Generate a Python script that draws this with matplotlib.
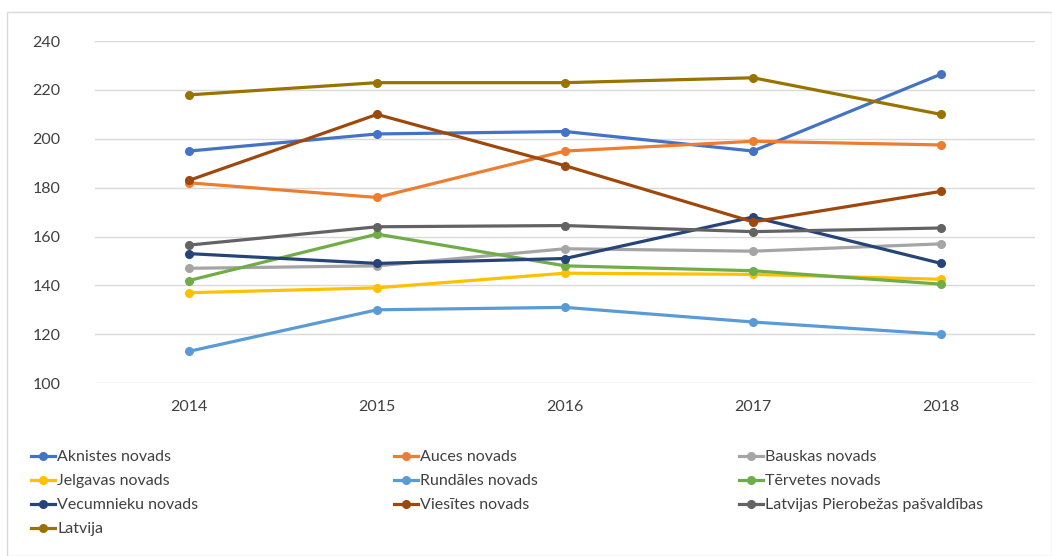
import matplotlib.pyplot as plt
from matplotlib.patches import Rectangle

plt.rcParams['font.family'] = ['Lato', 'DejaVu Sans']

years = ['2014', '2015', '2016', '2017', '2018']

aknistes = [195, 202, 203, 195, 226.5]
auces = [182, 176, 195, 199, 197.5]
bauskas = [147, 148, 155, 154, 157]
jelgavas = [137, 139, 145, 144.5, 142.5]
rundales = [113, 130, 131, 125, 120]
tervetes = [142, 161, 148, 146, 140.5]
vecumnieku = [153, 149, 151, 168, 149]
viesites = [183, 210, 189, 166, 178.5]
pierobezas = [156.5, 164, 164.5, 162, 163.5]
latvija = [218, 223, 223, 225, 210]

names = ['Aknistes novads', 'Auces novads', 'Bauskas novads',
         'Jelgavas novads', 'Rundāles novads', 'Tērvetes novads',
         'Vecumnieku novads', 'Viesītes novads', 'Latvijas Pierobežas pašvaldības',
         'Latvija']
series = [aknistes, auces, bauskas, jelgavas, rundales, tervetes,
          vecumnieku, viesites, pierobezas, latvija]
colors = ['#4472C4', '#ED7D31', '#A5A5A5', '#FFC000', '#5B9BD5', '#70AD47',
          '#264478', '#9E480E', '#636363', '#997300']

fig = plt.figure(figsize=(10.52, 5.56), dpi=100)
fig.patches.append(Rectangle((0.007, 0.0), 0.993, 0.978, transform=fig.transFigure,
                             fill=False, edgecolor='#D9D9D9', lw=1))
ax = fig.add_axes([0.0903, 0.311, 0.8937, 0.615])

x = list(range(len(years)))
handles = []
for vals, name, c in zip(series, names, colors):
    h, = ax.plot(x, vals, color=c, lw=2.3, marker='o', markersize=5.5, label=name)
    handles.append(h)

ax.set_xlim(-0.5, 4.5)
ax.set_ylim(100, 240)
ax.set_yticks(range(100, 241, 20))
ax.set_xticks(x)
ax.set_xticklabels(years)
ax.grid(axis='y', color='#D9D9D9', lw=1)
ax.set_axisbelow(True)
for s in ax.spines.values():
    s.set_visible(False)
ax.tick_params(length=0, labelsize=11.5, labelcolor='#404040', pad=12)
ax.tick_params(axis='y', pad=25)

cols = [[0, 3, 6, 9], [1, 4, 7], [2, 5, 8]]
xpos = [0.022, 0.367, 0.695]
for idx, xp in zip(cols, xpos):
    leg = fig.legend([handles[i] for i in idx], [names[i] for i in idx],
                     loc='upper left', bbox_to_anchor=(xp, 0.205), frameon=False,
                     fontsize=11.5, handlelength=1.5, handletextpad=0.15,
                     labelspacing=0.62, borderpad=0)
    for t in leg.get_texts():
        t.set_color('#404040')

fig.savefig('out.png', dpi=100)
